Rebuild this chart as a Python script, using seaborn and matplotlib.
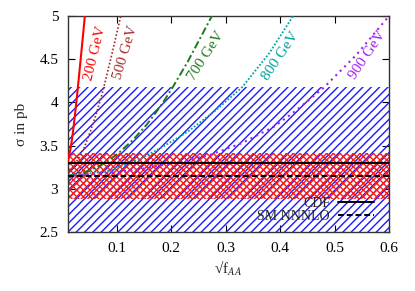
import numpy as np
import pandas as pd
import matplotlib
matplotlib.use('Agg')
import matplotlib.pyplot as plt
import seaborn as sns

# measured cross sections (pb)
CDF = 3.295
CDF_ERR = 0.88
SM = 3.145
SM_ERR = 0.265

# sigma vs sqrt(f_AA) for several masses
X_200 = [0.01, 0.012, 0.015, 0.020, 0.025, 0.030, 0.035, 0.041]
Y_200 = [3.31, 3.39, 3.47, 3.70, 3.98, 4.29, 4.61, 5.0]

X_500 = [0.01, 0.02, 0.03, 0.04, 0.052, 0.063, 0.0745, 0.09, 0.107]
Y_500 = [3.18, 3.26, 3.36, 3.48, 3.68, 3.89, 4.14, 4.54, 5.0]

X_700 = [0.01, 0.05, 0.08, 0.106, 0.13, 0.155, 0.18, 0.201, 0.23, 0.2745]
Y_700 = [3.15, 3.21, 3.305, 3.43, 3.57, 3.745, 3.955, 4.16, 4.47, 5.0]

X_800 = [0.01, 0.08, 0.14, 0.18, 0.23, 0.28, 0.33, 0.38, 0.4237]
Y_800 = [3.15, 3.20, 3.34, 3.47, 3.66, 3.90, 4.175, 4.57, 5.0]

X_900 = [0.01, 0.1, 0.154, 0.215, 0.27, 0.33, 0.389, 0.43, 0.48, 0.54, 0.6]
Y_900 = [3.15, 3.19, 3.24, 3.31, 3.39, 3.53, 3.72, 3.91, 4.17, 4.55, 5.0]

X_TICKS = [0.1, 0.2, 0.3, 0.4, 0.5, 0.6]
Y_TICKS = [2.5, 3, 3.5, 4, 4.5, 5]
Y_TICKLABELS = ["2.5", "3", "3.5", "4", "4.5", "5"]

sns.set_theme(style="ticks")
plt.rcParams['font.family'] = ['Liberation Serif', 'DejaVu Serif']
plt.rcParams['mathtext.fontset'] = 'stix'
plt.rcParams['hatch.linewidth'] = 1.0

FS = 11

fig = plt.figure(figsize=(4.15, 2.91), dpi=100)
ax = fig.add_axes([68 / 415, 1 - 232 / 291, (389 - 68) / 415, (232 - 16) / 291])

XMIN, XMAX = 0.01, 0.6
band_x = [XMIN, XMAX]

# CDF band (blue hatch) and SM band (red cross hatch)
ax.fill_between(band_x, CDF - CDF_ERR, CDF + CDF_ERR, facecolor='none',
                edgecolor='#1a1aff', linewidth=0, hatch='////', zorder=1)
ax.fill_between(band_x, SM - SM_ERR, SM + SM_ERR, facecolor='none',
                edgecolor='#ff1a1a', linewidth=0, hatch='xxxxx', zorder=2)

ax.axhline(CDF, color='black', lw=1.4, label='CDF', zorder=4)
ax.axhline(SM, color='black', lw=1.4, ls=(0, (3, 1.5)), label='SM NNNLO', zorder=4)

curves = [
    (X_200, Y_200, '#ff0000', '-', 1.5),
    (X_500, Y_500, '#a52a2a', (0, (1, 1.2)), 1.2),
    (X_700, Y_700, '#1a7a1a', (0, (4, 1.5, 1, 1.5)), 1.4),
    (X_800, Y_800, '#00a5a5', (0, (1, 1)), 1.3),
    (X_900, Y_900, '#a020f0', (0, (1, 2)), 1.5),
]
for xs, ys, col, ls, lw in curves:
    sns.lineplot(x=xs, y=ys, ax=ax, color=col, linestyle=ls, linewidth=lw,
                 sort=False, estimator=None, zorder=3)

labels = [
    ("200 GeV", 0.0606, 4.57, 76, '#ff0000'),
    ("500 GeV", 0.116, 4.575, 73, '#a52a2a'),
    ("700 GeV", 0.264, 4.54, 57, '#1a7a1a'),
    ("800 GeV", 0.400, 4.54, 56, '#00a0a0'),
    ("900 GeV", 0.560, 4.55, 56, '#a020f0'),
]
for txt, x, y, rot, col in labels:
    ax.text(x, y, txt, rotation=rot, color=col, fontsize=FS,
            ha='center', va='center', rotation_mode='anchor')

ax.set_xlim(XMIN, XMAX)
ax.set_ylim(2.5, 5)
ax.set_xticks(X_TICKS)
ax.set_xticklabels([f"{t:g}" for t in X_TICKS])
ax.set_yticks(Y_TICKS)
ax.set_yticklabels(Y_TICKLABELS)
ax.tick_params(direction='in', length=5, width=0.8, top=True, right=True,
               labelsize=FS, pad=7, colors='black')
for sp in ax.spines.values():
    sp.set_color('#333333')
    sp.set_linewidth(1.0)

ax.set_xlabel('√f$_{AA}$', fontsize=FS, labelpad=3)
ax.set_ylabel('σ in pb', fontsize=FS, labelpad=8)

ax.legend(loc='lower right', bbox_to_anchor=(0.985, -0.005), frameon=False,
          markerfirst=False, fontsize=10, handlelength=2.6, handletextpad=0.6,
          labelspacing=0.0, borderaxespad=0.3)

fig.savefig('out.png', dpi=100)
